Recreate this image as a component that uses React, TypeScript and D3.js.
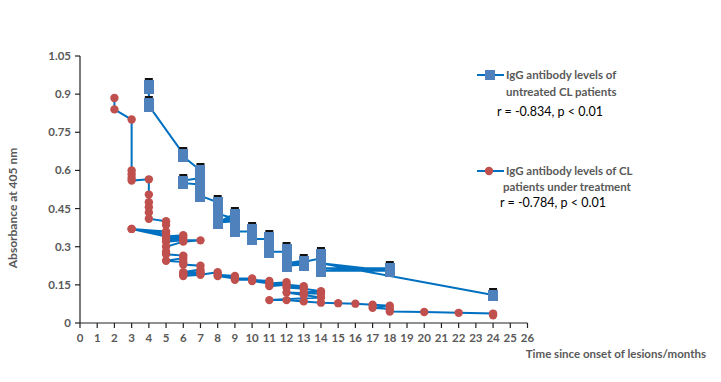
import React from "react";
import * as d3 from "d3";

const untreatedX = [4, 4, 4, 4, 6, 6, 7, 7, 7, 6, 6, 7, 7, 7, 8, 8, 8, 9, 8, 9, 8, 9, 9, 9, 10, 10, 10, 10, 11, 11, 11, 11, 12, 12, 12, 12, 13, 13, 12, 14, 14, 14, 14, 18, 14, 18, 14, 24];
const untreatedY = [0.935, 0.925, 0.865, 0.855, 0.665, 0.655, 0.6, 0.59, 0.57, 0.56, 0.55, 0.545, 0.52, 0.5, 0.475, 0.45, 0.43, 0.41, 0.405, 0.4, 0.395, 0.43, 0.38, 0.36, 0.36, 0.37, 0.34, 0.33, 0.33, 0.34, 0.31, 0.28, 0.28, 0.29, 0.26, 0.235, 0.245, 0.23, 0.225, 0.255, 0.27, 0.24, 0.215, 0.215, 0.205, 0.205, 0.235, 0.11];

const treatedX = [2, 2, 3, 3, 3, 3, 3, 4, 4, 4, 4, 4, 4, 5, 5, 5, 3, 5, 3, 5, 6, 5, 6, 5, 6, 7, 6, 5, 5, 5, 6, 6, 5, 6, 6, 7, 7, 6, 6, 7, 6, 7, 6, 7, 8, 8, 9, 8, 9, 10, 9, 10, 11, 10, 11, 12, 11, 12, 13, 12, 13, 14, 13, 14, 12, 13, 14, 11, 12, 13, 14, 15, 16, 17, 18, 17, 18, 18, 20, 22, 24, 24];
const treatedY = [0.885, 0.84, 0.8, 0.6, 0.585, 0.57, 0.56, 0.565, 0.505, 0.475, 0.455, 0.435, 0.41, 0.4, 0.385, 0.36, 0.37, 0.35, 0.37, 0.34, 0.345, 0.33, 0.335, 0.32, 0.325, 0.325, 0.32, 0.3, 0.28, 0.27, 0.265, 0.255, 0.245, 0.24, 0.23, 0.225, 0.21, 0.2, 0.195, 0.2, 0.19, 0.195, 0.185, 0.19, 0.2, 0.19, 0.185, 0.185, 0.175, 0.175, 0.17, 0.17, 0.165, 0.165, 0.155, 0.16, 0.145, 0.15, 0.145, 0.14, 0.135, 0.125, 0.12, 0.115, 0.12, 0.11, 0.1, 0.09, 0.09, 0.085, 0.08, 0.078, 0.076, 0.072, 0.068, 0.06, 0.055, 0.045, 0.043, 0.04, 0.037, 0.03];

const yTicks = [0, 0.15, 0.3, 0.45, 0.6, 0.75, 0.9, 1.05];
const yTickLabels = ["0", "0.15", "0.3", "0.45", "0.6", "0.75", "0.9", "1.05"];
const xTicks = d3.range(0, 27);

const legendUntreated = ["IgG antibody levels of", "untreated CL patients"];
const legendTreated = ["IgG antibody levels of CL", "patients under treatment"];
const statUntreated = "r = -0.834, p < 0.01";
const statTreated = "r = -0.784, p < 0.01";
const xTitle = "Time since onset of lesions/months";
const yTitle = "Absorbance at 405 nm";

const LINE = "#0070C0";
const BLUE = "#4F81BD";
const RED = "#C0504D";
const GREY = "#595959";
const FONT = "Lato, 'Open Sans', sans-serif";

export default function App() {
  const W = 721, H = 382;
  const x = d3.scaleLinear().domain([0, 26]).range([80, 527.5]);
  const y = d3.scaleLinear().domain([0, 1.05]).range([323, 56]);
  const blue = untreatedX.map((v, i) => [v, untreatedY[i]] as [number, number]);
  const red = treatedX.map((v, i) => [v, treatedY[i]] as [number, number]);
  const line = d3.line<[number, number]>().x(d => x(d[0])).y(d => y(d[1]));
  // cap only where no other marker sits just above (top of each cluster)
  const capped = blue.filter(d => !blue.some(o => o[0] === d[0] && o[1] > d[1] && o[1] - d[1] < 0.045));

  return (
    <svg width={W} height={H} style={{ position: "absolute", left: 0, top: 0, background: "#fff" }} fontFamily={FONT}>
      {/* axes */}
      <line x1={x(0)} x2={x(0)} y1={y(1.05)} y2={y(0)} stroke="#222" strokeWidth={1.2} />
      <line x1={x(0)} x2={x(26)} y1={y(0)} y2={y(0)} stroke="#222" strokeWidth={1.2} />
      {yTicks.map((t, i) => (
        <g key={"y" + i}>
          <line x1={x(0) - 5} x2={x(0)} y1={y(t)} y2={y(t)} stroke="#222" strokeWidth={1.2} />
          <text x={x(0) - 9} y={y(t) + 4} textAnchor="end" fontSize={11.5} fontWeight={700} fill={GREY}>{yTickLabels[i]}</text>
        </g>
      ))}
      {xTicks.map(t => (
        <g key={"x" + t}>
          <line x1={x(t)} x2={x(t)} y1={y(0)} y2={y(0) + 5} stroke="#222" strokeWidth={1.2} />
          <text x={x(t)} y={y(0) + 19} textAnchor="middle" fontSize={11.5} fontWeight={700} fill={GREY}>{t}</text>
        </g>
      ))}
      <text x={706} y={358} textAnchor="end" fontSize={11.5} fontWeight={700} fill={GREY}>{xTitle}</text>
      <text transform={`translate(17,${208}) rotate(-90)`} textAnchor="middle" fontSize={12} fontWeight={700} fill={GREY}>{yTitle}</text>

      {/* series lines */}
      <path d={line(blue) || ""} fill="none" stroke={LINE} strokeWidth={2} />
      <path d={line(red) || ""} fill="none" stroke={LINE} strokeWidth={2} />

      {/* blue error caps */}
      {capped.map((d, i) => (
        <line key={"e" + i} x1={x(d[0]) - 4} x2={x(d[0]) + 4} y1={Math.round(y(d[1])) - 6} y2={Math.round(y(d[1])) - 6} stroke="#111" strokeWidth={2} />
      ))}
      {blue.map((d, i) => (
        <rect key={"b" + i} x={Math.round(x(d[0])) - 5} y={Math.round(y(d[1])) - 5} width={10} height={11} fill={BLUE} />
      ))}
      {red.map((d, i) => (
        <circle key={"r" + i} cx={x(d[0])} cy={y(d[1])} r={4.2} fill={RED} />
      ))}

      {/* legend */}
      <line x1={477} x2={504} y1={75} y2={75} stroke={LINE} strokeWidth={2} />
      <rect x={485} y={70} width={10} height={10} fill={BLUE} />
      <text x={506} y={79} fontSize={11.5} fontWeight={700} fill={GREY}>{legendUntreated[0]}</text>
      <text x={506} y={96} fontSize={11.5} fontWeight={700} fill={GREY}>{legendUntreated[1]}</text>
      <text x={497} y={116} fontSize={12.5} fill="#000">{statUntreated}</text>

      <line x1={477} x2={504} y1={171} y2={171} stroke={LINE} strokeWidth={2} />
      <circle cx={489} cy={171} r={4.2} fill={RED} />
      <text x={506} y={175} fontSize={11.5} fontWeight={700} fill={GREY}>{legendTreated[0]}</text>
      <text x={503} y={191} fontSize={11.5} fontWeight={700} fill={GREY}>{legendTreated[1]}</text>
      <text x={500} y={207} fontSize={12.5} fill="#000">{statTreated}</text>
    </svg>
  );
}
